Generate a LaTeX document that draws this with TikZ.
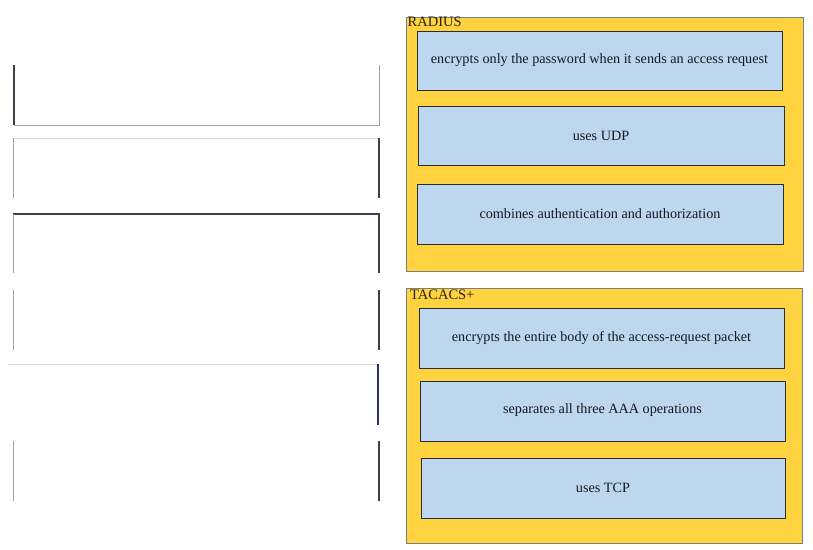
\documentclass[tikz,border=0pt]{standalone}
\usepackage{fontspec}
\setmainfont{Liberation Serif}
\definecolor{panelfill}{RGB}{255,210,64}
\definecolor{panelline}{RGB}{120,128,130}
\definecolor{itemfill}{RGB}{189,215,238}
\definecolor{itemline}{RGB}{40,44,52}
\definecolor{darkedge}{RGB}{60,64,72}
\definecolor{lightedge}{RGB}{160,162,165}
\definecolor{paleedge}{RGB}{210,215,220}
\definecolor{titletext}{RGB}{45,35,10}
\definecolor{bodytext}{RGB}{20,24,36}
\begin{document}
\begin{tikzpicture}[x=1pt,y=-1pt,
  panel/.style={fill=panelfill,draw=panelline,line width=0.8pt},
  item/.style={fill=itemfill,draw=itemline,line width=1pt},
  itemtext/.style={font=\fontsize{14.2}{16}\selectfont,text=bodytext},
  paneltitle/.style={font=\fontsize{14.5}{16}\selectfont,anchor=north west,inner sep=0pt,text=titletext},
  dk/.style={draw=darkedge,line width=1.1pt},
  lt/.style={draw=lightedge,line width=0.8pt},
  pl/.style={draw=paleedge,line width=0.8pt}]
\useasboundingbox (0,0) rectangle (813,549);
\fill[white] (0,0) rectangle (813,549);

% left answer slots (partial edges as in the reference)
\coordinate (s1a) at (14,65);  \coordinate (s1b) at (379,125);
\draw[dk] (s1a) -- (s1a |- s1b);
\draw[lt] (s1a |- s1b) -- (s1b) -- (s1b |- s1a);

\coordinate (s2a) at (13,138); \coordinate (s2b) at (379,198);
\draw[pl] (s2a) -- (s2b |- s2a);
\draw[lt] (s2a) -- (s2a |- s2b);
\draw[dk] (s2b |- s2a) -- (s2b);

\coordinate (s3a) at (13,214); \coordinate (s3b) at (379,273);
\draw[dk] (s3a) -- (s3b |- s3a) -- (s3b);
\draw[lt] (s3a) -- (s3a |- s3b);

\coordinate (s4a) at (13,290); \coordinate (s4b) at (379,350);
\draw[lt] (s4a) -- (s4a |- s4b);
\draw[dk] (s4b |- s4a) -- (s4b);

\coordinate (s5a) at (9,364);  \coordinate (s5b) at (378,425);
\draw[pl] (s5a) -- (s5b |- s5a);
\draw[dk,draw=darkedge!70!blue] (s5b |- s5a) -- (s5b);

\coordinate (s6a) at (13,441); \coordinate (s6b) at (379,501);
\draw[lt] (s6a) -- (s6a |- s6b);
\draw[dk] (s6b |- s6a) -- (s6b);

% RADIUS panel
\draw[panel] (406,17) rectangle (803,271);
\node[paneltitle] (radius) at (407.5,16.5) {RADIUS};
\draw[item] (417,31) rectangle (782,90);
\node[itemtext] (r1) at (599.5,60.5) {encrypts only the password when it sends an access request};
\draw[item] (418,106) rectangle (784,165);
\node[itemtext] (r2) at (601,136) {uses UDP};
\draw[item] (417,184) rectangle (783,244);
\node[itemtext] (r3) at (600,214) {combines authentication and authorization};

% TACACS+ panel
\draw[panel] (406,288) rectangle (802,543);
\node[paneltitle] (tacacs) at (410,289.5) {TACACS+};
\draw[item] (419,308) rectangle (784,368);
\node[itemtext] (t1) at (601.5,338) {encrypts the entire body of the access-request packet};
\draw[item] (420,381) rectangle (785,441);
\node[itemtext] (t2) at (602.5,410.5) {separates all three AAA operations};
\draw[item] (421,458) rectangle (785,518);
\node[itemtext] (t3) at (603,488) {uses TCP};
\end{tikzpicture}
\end{document}
